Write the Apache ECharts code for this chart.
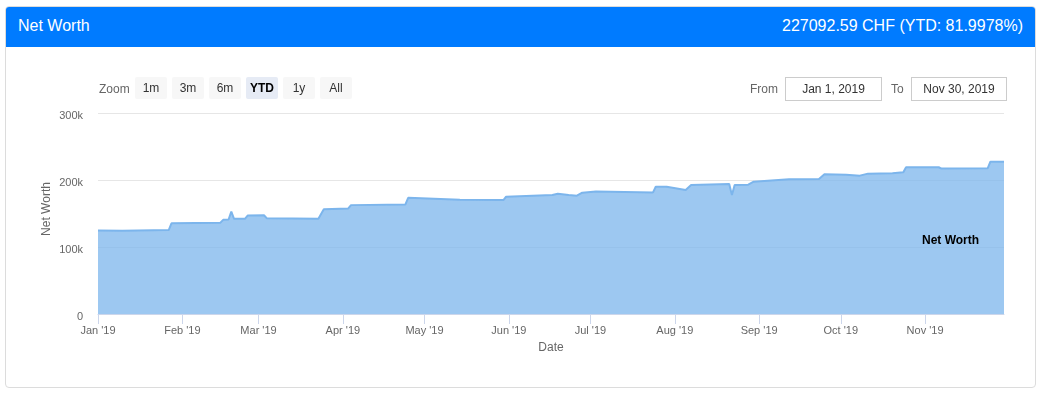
<!DOCTYPE html>
<html>
<head>
<meta charset="utf-8">
<script src="https://cdn.jsdelivr.net/npm/echarts@6/dist/echarts.min.js"></script>
<style>
  html, body { margin:0; padding:0; background:#fff; width:1042px; height:393px; overflow:hidden;
    font-family: "Liberation Sans", Arial, Helvetica, sans-serif; }
  #card { position:absolute; left:5px; top:6px; width:1029px; height:380px; border:1px solid #dcdcdc; border-radius:4px; background:#fff; }
  #hdr { position:absolute; left:6px; top:7px; width:1029px; height:40px; background:#007bff; color:#fff; font-size:16px; border-radius:3px 3px 0 0; }
  #hdr .l { position:absolute; left:12px; top:10px; }
  #hdr .r { position:absolute; right:12px; top:10px; }
  #chart { position:absolute; left:0; top:0; width:1042px; height:393px; }
  .rs { position:absolute; font-size:12px; color:#666; }
  .btn { position:absolute; top:77px; width:32px; height:22px; line-height:22px; text-align:center; background:#f7f7f7; color:#333; font-size:12px; border-radius:2px; }
  .btn.sel { background:#e6ebf5; font-weight:bold; color:#000; }
  .inp { position:absolute; top:77px; height:22px; line-height:22px; border:1px solid #ccc; text-align:center; font-size:12px; color:#333; background:#fff; }
</style>
</head>
<body>
<div id="card"></div>
<div id="hdr"><span class="l">Net Worth</span><span class="r">227092.59 CHF (YTD: 81.9978%)</span></div>
<div id="chart"></div>
<div class="rs" style="left:99px;top:82px;">Zoom</div>
<div class="btn" style="left:135px;">1m</div>
<div class="btn" style="left:172px;">3m</div>
<div class="btn" style="left:209px;">6m</div>
<div class="btn sel" style="left:246px;">YTD</div>
<div class="btn" style="left:283px;">1y</div>
<div class="btn" style="left:320px;">All</div>
<div class="rs" style="left:750px;top:82px;">From</div>
<div class="inp" style="left:785px;width:95px;">Jan 1, 2019</div>
<div class="rs" style="left:891px;top:82px;">To</div>
<div class="inp" style="left:911px;width:94px;">Nov 30, 2019</div>
<script>
const dates = ['2019-01-01','2019-01-10','2019-01-27','2019-01-28','2019-02-15','2019-02-16','2019-02-18','2019-02-19','2019-02-20','2019-02-24','2019-02-25','2019-03-03','2019-03-04','2019-03-23','2019-03-25','2019-04-03','2019-04-04','2019-04-24','2019-04-25','2019-05-14','2019-05-30','2019-05-31','2019-06-17','2019-06-19','2019-06-23','2019-06-26','2019-06-28','2019-07-03','2019-07-24','2019-07-25','2019-07-29','2019-08-05','2019-08-07','2019-08-21','2019-08-22','2019-08-23','2019-08-28','2019-08-30','2019-09-12','2019-09-23','2019-09-25','2019-10-03','2019-10-08','2019-10-11','2019-10-20','2019-10-24','2019-10-25','2019-11-06','2019-11-07','2019-11-24','2019-11-25','2019-11-30'];
const values = [124777,124400,125200,135300,136300,140500,141000,153000,142000,142000,147000,147400,143000,142000,156500,157500,162500,163500,173500,170500,170000,175000,177500,179500,177500,176500,181000,183000,181500,190000,190000,185000,192500,194000,177500,192500,193000,197500,201000,201500,208500,208000,206500,209500,210000,211500,219000,219000,217000,217500,227300,227092.59];
const monthNames = ['Jan','Feb','Mar','Apr','May','Jun','Jul','Aug','Sep','Oct','Nov','Dec'];
const yTicks = ['0','100k','200k','300k'];
const seriesName = 'Net Worth';

const chart = echarts.init(document.getElementById('chart'));
const DAY = 86400000;
chart.setOption({
  backgroundColor: 'transparent',
  animation: false,
  textStyle: { fontFamily: '"Liberation Sans", Arial, Helvetica, sans-serif' },
  grid: { left: 98, right: 38, top: 113, bottom: 79, containLabel: false },
  xAxis: {
    type: 'time',
    min: '2019-01-01', max: '2019-11-30',
    minInterval: 28 * DAY, maxInterval: 31 * DAY,
    name: 'Date', nameLocation: 'middle', nameGap: 28,
    nameTextStyle: { color: '#666', fontSize: 12 },
    axisLine: { lineStyle: { color: '#ccd6eb', width: 1 } },
    axisTick: { show: true, length: 10, lineStyle: { color: '#ccd6eb' } },
    splitLine: { show: false },
    axisLabel: { color: '#666', fontSize: 11, margin: 11, showMaxLabel: false, hideOverlap: false,
      formatter: function (v) { const d = new Date(v); return monthNames[d.getMonth()] + " '" + String(d.getFullYear()).slice(2); } }
  },
  yAxis: {
    type: 'value', min: 0, max: 300000, interval: 100000,
    name: 'Net Worth', nameLocation: 'middle', nameGap: 45, nameRotate: 90, nameMoveOverlap: false,
    nameTextStyle: { color: '#666', fontSize: 12, padding: [0, 0, 0, 9] },
    axisLine: { show: false }, axisTick: { show: false },
    splitLine: { lineStyle: { color: '#e6e6e6', width: 1 } },
    axisLabel: { color: '#666', fontSize: 11, margin: 15,
      formatter: function (v) { return '{a|' + yTicks[Math.round(v / 100000)] + '}'; },
      rich: { a: { color: '#666', fontSize: 11, padding: [6, 0, 0, 0] } } }
  },
  series: [{
    name: seriesName, type: 'line', showSymbol: false, symbol: 'none', z: 2,
    data: dates.map((d, i) => [d, values[i]]),
    lineStyle: { color: '#7cb5ec', width: 2 },
    itemStyle: { color: '#7cb5ec' },
    areaStyle: { color: '#7cb5ec', opacity: 0.75 }
  }],
  graphic: [{
    type: 'text', left: 922, top: 235, z: 100, zlevel: 0,
    style: { text: seriesName, fill: '#000', font: 'bold 12px "Liberation Sans", Arial, sans-serif' }
  }]
});
</script>
</body>
</html>
